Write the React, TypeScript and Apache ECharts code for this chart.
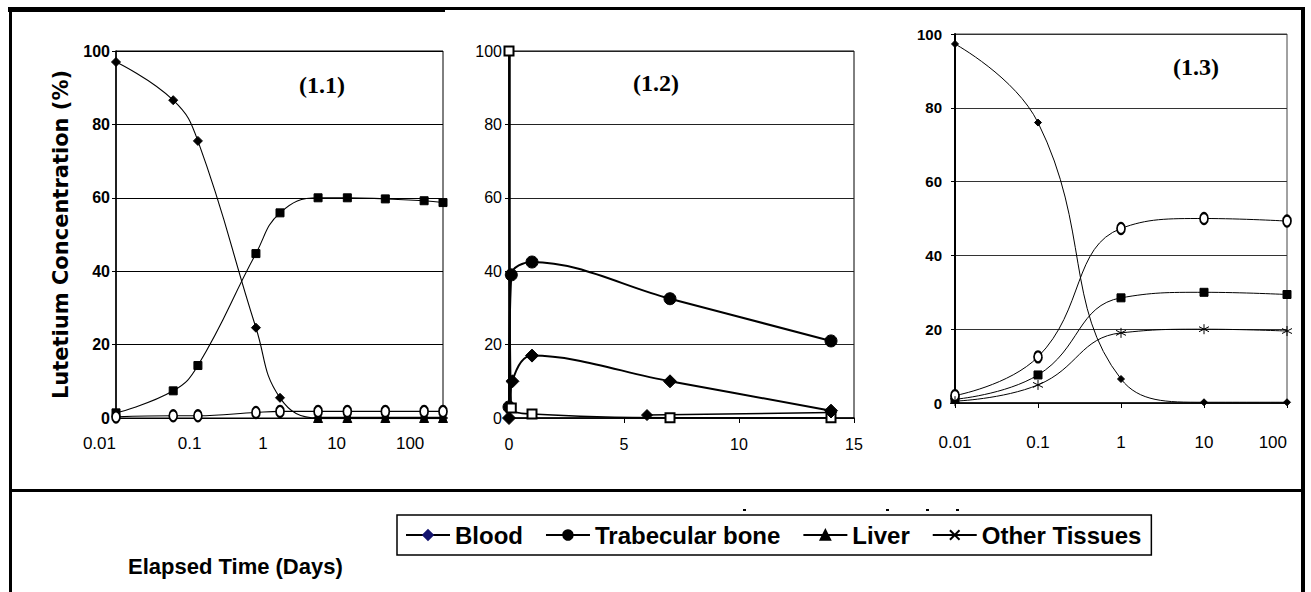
import React, { useEffect, useRef } from "react";
import * as echarts from "echarts";

// ---------- texts ----------
const panelTitles = ["(1.1)", "(1.2)", "(1.3)"];
const legendNames = ["Blood", "Trabecular bone", "Liver", "Other Tissues"];
const xAxisTitle = "Elapsed Time (Days)";
const yAxisTitle = "Lutetium Concentration (%)";

// ---------- panel (1.1): log time axis ----------
const p1Time = [0.01, 0.06, 0.13, 0.8, 1.7, 5.6, 14, 46, 155, 280];
const p1Blood = [97, 86.6, 75.5, 24.6, 5.5, 0, 0, 0, 0, 0];
const p1Bone = [1.4, 7.4, 14.3, 44.8, 55.9, 60, 60, 59.7, 59.2, 58.7];
const p1Liver = [null, null, null, null, null, 0, 0, 0, 0, 0];
const p1Other = [0.3, 0.6, 0.6, 1.5, 1.8, 1.8, 1.8, 1.8, 1.8, 1.8];

// ---------- panel (1.2): linear time axis ----------
const p2BloodTime = [0, 0.15, 1, 7, 14];
const p2Blood = [0, 10, 17, 10, 2];
const p2BoneTime = [0, 0.1, 1, 7, 14];
const p2Bone = [3, 39, 42.5, 32.5, 21];
const p2LiverTime = [0, 0.1, 1, 7, 14];
const p2Liver = [100, 2.7, 1.1, 0.1, 0.1];
const p2OtherTime = [6, 14];
const p2Other = [0.8, 1.5];

// ---------- panel (1.3): log time axis ----------
const p3Time = [0.01, 0.1, 1, 10, 100];
const p3Blood = [97.3, 76, 6.5, 0.2, 0.2];
const p3Bone = [1, 7.6, 28.5, 30, 29.4];
const p3Liver = [2, 12.5, 47.3, 50, 49.3];
const p3Other = [0.5, 4.9, 19, 20, 19.5];

// ---------- axis ranges ----------
const yRange = { min: 0, max: 100, interval: 20 };
const p1XRange = { min: 0.01, max: 280 };
const p2XRange = { min: 0, max: 15, interval: 5 };
const p3XRange = { min: 0.01, max: 100 };

const ARIAL = "'Liberation Sans', Arial, sans-serif";
const SERIF = "'Liberation Serif', 'Times New Roman', serif";

const pairs = (xs: number[], ys: (number | null)[]) =>
  xs.map((x, i) => [x, ys[i]]).filter((p) => p[1] !== null);

const ASTERISK = "path://M5,0L5,10M0.7,2.5L9.3,7.5M0.7,7.5L9.3,2.5";
const CROSS = "path://M0,0L10,10M10,0L0,10";

function lineSeries(
  name: string,
  grid: number,
  data: any[],
  symbol: string,
  size: any,
  width: number,
  smooth: number,
  opts: any = {}
) {
  return {
    type: "line",
    name,
    xAxisIndex: grid,
    yAxisIndex: grid,
    data,
    symbol,
    symbolSize: size,
    smooth,
    showAllSymbol: true,
    lineStyle: { color: "#000", width },
    itemStyle: { color: "#000", borderColor: "#000", borderWidth: 1, ...(opts.itemStyle || {}) },
    emphasis: { disabled: true },
    z: opts.z || 3,
  };
}

function yAxis(grid: number, weight: string, size: number, margin: number, lw: number, split: string) {
  return {
    type: "value",
    gridIndex: grid,
    ...yRange,
    axisLine: { show: true, lineStyle: { color: "#000", width: lw } },
    axisTick: { show: true, length: 4, lineStyle: { color: "#000" } },
    splitLine: { show: true, lineStyle: { color: split, width: 1 } },
    axisLabel: { color: "#000", fontFamily: ARIAL, fontWeight: weight, fontSize: size, margin },
  };
}

export default function App() {
  const ref = useRef<HTMLDivElement>(null);
  useEffect(() => {
    if (!ref.current) return;
    const chart = echarts.init(ref.current, null, { renderer: "svg" });

    const grids = [
      { left: 116, top: 51, width: 327, height: 367 },
      { left: 509, top: 51, width: 345, height: 367 },
      { left: 955, top: 34, width: 332, height: 369 },
    ].map((g, i) => ({
      ...g,
      show: true,
      backgroundColor: "transparent",
      borderColor: i === 2 ? "#444" : "#000",
      borderWidth: 1,
      containLabel: false,
      outerBoundsMode: "none",
    }));

    const xAxes = [
      {
        type: "log",
        logBase: 10,
        gridIndex: 0,
        ...p1XRange,
        axisLine: { show: true, lineStyle: { color: "#000", width: 1.2 } },
        axisTick: { show: false },
        splitLine: { show: false },
        axisLabel: {
          color: "#000",
          fontFamily: ARIAL,
          fontSize: 17,
          margin: 17,
          showMaxLabel: false,
          alignMinLabel: "right",
          formatter: (v: number) => String(+v.toPrecision(6)),
        },
      },
      {
        type: "value",
        gridIndex: 1,
        ...p2XRange,
        axisLine: { show: true, lineStyle: { color: "#000", width: 1.5 } },
        axisTick: { show: true, length: 5, lineStyle: { color: "#000" } },
        splitLine: { show: false },
        axisLabel: { color: "#000", fontFamily: ARIAL, fontSize: 16, margin: 18 },
      },
      {
        type: "log",
        logBase: 10,
        gridIndex: 2,
        ...p3XRange,
        axisLine: { show: true, lineStyle: { color: "#000", width: 1.5 } },
        axisTick: { show: true, length: 5, lineStyle: { color: "#000" } },
        splitLine: { show: false },
        axisLabel: {
          color: "#000",
          fontFamily: ARIAL,
          fontSize: 17,
          margin: 31,
          alignMaxLabel: "right",
          formatter: (v: number) => String(+v.toPrecision(6)),
        },
      },
    ];

    const yAxes = [
      {
        ...yAxis(0, "bold", 16, 6, 1.5, "#000"),
        name: yAxisTitle,
        nameLocation: "middle",
        nameRotate: 90,
        nameGap: 45,
        nameTextStyle: { fontFamily: "'DejaVu Sans', sans-serif", fontWeight: "bold", fontSize: 21, color: "#000" },
      },
      yAxis(1, "normal", 16, 7, 2.5, "#222"),
      yAxis(2, "bold", 15, 13, 2, "#333"),
    ];

    const series: any[] = [
      // legend-key series (first with each name, carry the legend symbols)
      lineSeries("Blood", 0, [], "diamond", 8, 1.2, 0, { itemStyle: { color: "#14146e", borderColor: "#14146e" } }),
      lineSeries("Trabecular bone", 0, [], "circle", 10, 1.2, 0),
      lineSeries("Liver", 0, [], "triangle", 10, 1.2, 0),
      lineSeries("Other Tissues", 0, [], CROSS, 10, 1.2, 0, { itemStyle: { color: "transparent" } }),

      // panel (1.1)
      lineSeries("Blood", 0, pairs(p1Time, p1Blood), "diamond", 9, 1.1, 0.45),
      lineSeries("Trabecular bone", 0, pairs(p1Time, p1Bone), "rect", 8, 1.1, 0.45),
      lineSeries("Liver", 0, pairs(p1Time, p1Liver), "triangle", 9, 2.5, 0.3),
      lineSeries("Other Tissues", 0, pairs(p1Time, p1Other), "emptyCircle", [8, 11], 1.1, 0.4),

      // panel (1.2)
      lineSeries("Blood", 1, pairs(p2BloodTime, p2Blood), "diamond", 13, 2, 0.35),
      lineSeries("Trabecular bone", 1, pairs(p2BoneTime, p2Bone), "circle", 12, 2, 0.35),
      lineSeries("Liver", 1, pairs(p2LiverTime, p2Liver), "emptyRect", 9, 1.5, 0.3),
      lineSeries("Other Tissues", 1, pairs(p2OtherTime, p2Other), "diamond", 11, 1.5, 0),

      // panel (1.3)
      lineSeries("Blood", 2, pairs(p3Time, p3Blood), "diamond", 7, 1, 0.45),
      lineSeries("Trabecular bone", 2, pairs(p3Time, p3Bone), "rect", 8, 1, 0.45),
      lineSeries("Liver", 2, pairs(p3Time, p3Liver), "emptyCircle", [8, 11], 1, 0.45),
      lineSeries("Other Tissues", 2, pairs(p3Time, p3Other), ASTERISK, 10, 1, 0.45, {
        itemStyle: { color: "transparent" },
      }),
    ];

    const frameRects = [
      { x: 8, y: 7, width: 1297, height: 3 },
      { x: 8, y: 9, width: 437, height: 3 },
      { x: 9, y: 7, width: 3, height: 585 },
      { x: 1301, y: 7, width: 4, height: 585 },
      { x: 9, y: 489, width: 1296, height: 3 },
      { x: 743, y: 509, width: 3, height: 2 },
      { x: 886, y: 509, width: 3, height: 2 },
      { x: 926, y: 509, width: 3, height: 2 },
      { x: 956, y: 509, width: 3, height: 2 },
    ];
    const titlePos = [
      [322, 85],
      [656, 83],
      [1196, 67],
    ];

    chart.setOption({
      animation: false,
      backgroundColor: "#fff",
      grid: grids,
      xAxis: xAxes,
      yAxis: yAxes,
      legend: {
        data: legendNames,
        left: 397,
        top: 515,
        orient: "horizontal",
        itemWidth: 44,
        itemHeight: 12,
        itemGap: 22,
        padding: [8, 10, 8, 8],
        borderColor: "#000",
        borderWidth: 1.5,
        selectedMode: false,
        textStyle: { fontFamily: ARIAL, fontWeight: "bold", fontSize: 24, color: "#000" },
      },
      graphic: [
        ...frameRects.map((r) => ({ type: "rect", shape: r, style: { fill: "#000" }, silent: true })),
        ...panelTitles.map((t, i) => ({
          type: "text",
          x: titlePos[i][0],
          y: titlePos[i][1],
          style: {
            text: t,
            fill: "#000",
            font: `bold 24px ${SERIF}`,
            textAlign: "center",
            textVerticalAlign: "middle",
          },
        })),
        {
          type: "text",
          x: 128,
          y: 566,
          style: {
            text: xAxisTitle,
            fill: "#000",
            font: `bold 22px ${ARIAL}`,
            textAlign: "left",
            textVerticalAlign: "middle",
          },
        },
      ],
      series,
    });
    return () => chart.dispose();
  }, []);
  return (
    <div
      ref={ref}
      style={{ position: "fixed", left: 0, top: 0, width: 1311, height: 592, background: "#fff" }}
    />
  );
}
